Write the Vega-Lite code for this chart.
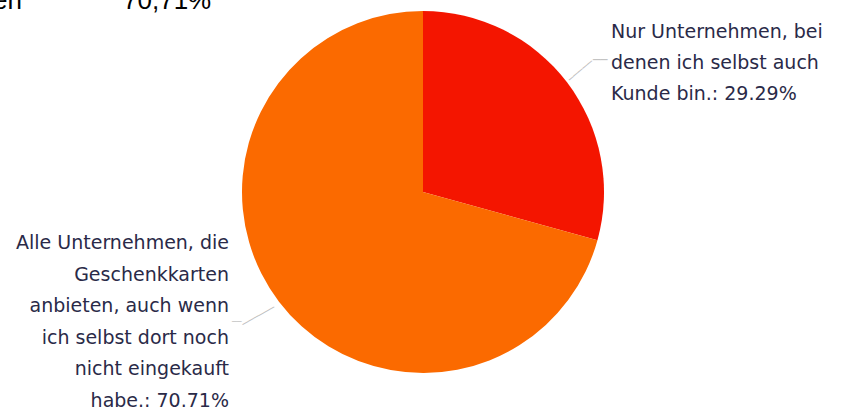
{
  "$schema": "https://vega.github.io/schema/vega-lite/v6.json",
  "width": 846,
  "height": 384,
  "autosize": "none",
  "padding": {"left": 0, "right": 0, "top": 0, "bottom": 26},
  "background": "white",
  "config": {"view": {"stroke": null}},
  "title": {
    "text": "en\u00a0\u00a0\u00a0\u00a0\u00a0\u00a0\u00a0\u00a0\u00a0\u00a0\u00a0\u00a0\u00a0\u00a070,71%",
    "anchor": "start",
    "frame": "group",
    "font": "Liberation Sans",
    "fontSize": 26,
    "fontWeight": "normal",
    "color": "#000000",
    "baseline": "alphabetic",
    "offset": -79,
    "dx": -7
  },
  "data": {
    "values": [
      {"category": "Nur Unternehmen, bei denen ich selbst auch Kunde bin.", "label": "Nur Unternehmen, bei\ndenen ich selbst auch\nKunde bin.: 29.29%", "value": 29.29},
      {"category": "Alle Unternehmen, die Geschenkkarten anbieten, auch wenn ich selbst dort noch nicht eingekauft habe.", "label": "Alle Unternehmen, die\nGeschenkkarten\nanbieten, auch wenn\nich selbst dort noch\nnicht eingekauft\nhabe.: 70.71%", "value": 70.71}
    ]
  },
  "encoding": {
    "theta": {"field": "value", "type": "quantitative", "stack": true},
    "order": {"field": "category", "type": "nominal", "sort": "descending"},
    "detail": {"field": "category", "type": "nominal"}
  },
  "layer": [
    {
      "mark": {"type": "arc", "outerRadius": 181},
      "encoding": {
        "color": {
          "field": "category",
          "type": "nominal",
          "scale": {
            "domain": ["Nur Unternehmen, bei denen ich selbst auch Kunde bin.", "Alle Unternehmen, die Geschenkkarten anbieten, auch wenn ich selbst dort noch nicht eingekauft habe."],
            "range": ["#f41500", "#fb6a00"]
          },
          "legend": null
        }
      }
    },
    {
      "mark": {"type": "text", "radius": 230, "align": "left", "baseline": "middle", "dx": 5, "dy": -21, "font": "DejaVu Sans", "fontSize": 19, "lineHeight": 31, "lineBreak": "\n", "color": "#2a2a48"},
      "encoding": {
        "text": {"condition": {"test": "datum.value < 50", "field": "label"}, "value": ""}
      }
    },
    {
      "mark": {"type": "text", "radius": 230, "align": "right", "baseline": "middle", "dx": -11, "dy": -88, "font": "DejaVu Sans", "fontSize": 19, "lineHeight": 31.5, "lineBreak": "\n", "color": "#2a2a48"},
      "encoding": {
        "text": {"condition": {"test": "datum.value > 50", "field": "label"}, "value": ""}
      }
    },
    {
      "mark": {"type": "text", "radius": 200, "align": "center", "baseline": "middle", "dx": -1, "dy": -1, "angle": 320, "font": "DejaVu Sans", "fontSize": 10, "color": "#bdbdbd"},
      "encoding": {
        "text": {"condition": {"test": "datum.value < 50", "value": "─────"}, "value": ""}
      }
    },
    {
      "mark": {"type": "text", "radius": 200, "align": "center", "baseline": "middle", "dx": 18, "dy": -11, "font": "DejaVu Sans", "fontSize": 12, "color": "#bdbdbd"},
      "encoding": {
        "text": {"condition": {"test": "datum.value < 50", "value": "──"}, "value": ""}
      }
    },
    {
      "mark": {"type": "text", "radius": 200, "align": "center", "baseline": "middle", "dx": -6, "dy": 0, "angle": 331, "font": "DejaVu Sans", "fontSize": 10, "color": "#bdbdbd"},
      "encoding": {
        "text": {"condition": {"test": "datum.value > 50", "value": "──────"}, "value": ""}
      }
    },
    {
      "mark": {"type": "text", "radius": 200, "align": "center", "baseline": "middle", "dx": -27, "dy": 9, "font": "DejaVu Sans", "fontSize": 8, "color": "#bdbdbd"},
      "encoding": {
        "text": {"condition": {"test": "datum.value > 50", "value": "──"}, "value": ""}
      }
    }
  ]
}
